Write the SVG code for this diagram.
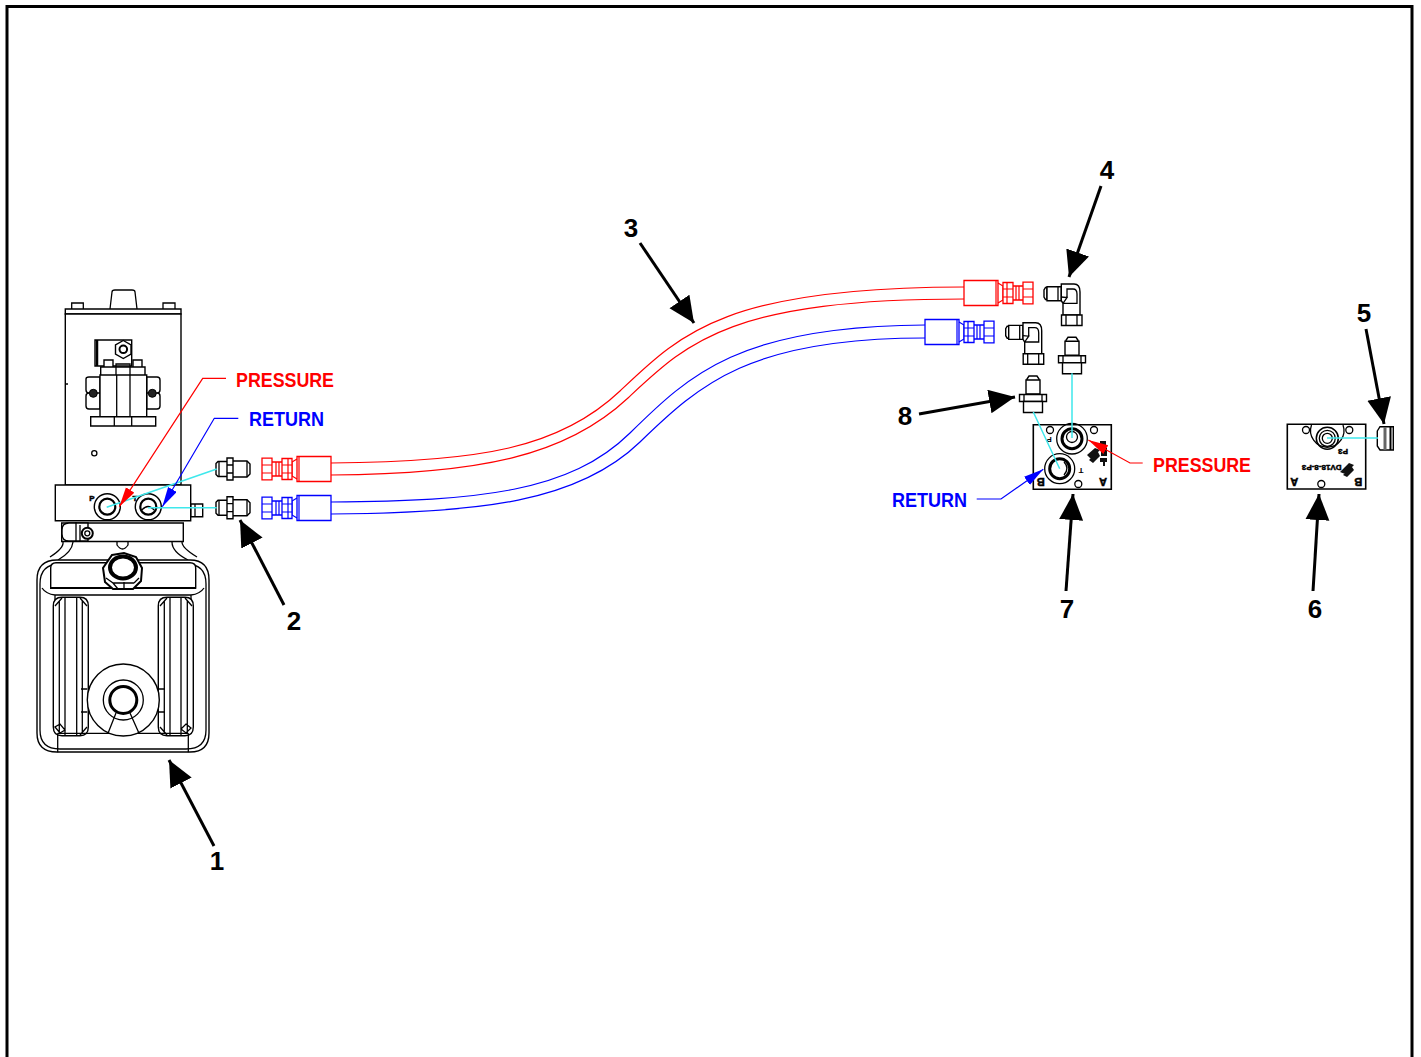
<svg xmlns="http://www.w3.org/2000/svg" xmlns:xlink="http://www.w3.org/1999/xlink" width="1421" height="1057" viewBox="0 0 1421 1057">
<style>
.k{fill:none;stroke:#000;stroke-width:1.3}
.w{fill:#fff;stroke:#000;stroke-width:1.4}
.h{fill:#fff;stroke:currentColor;stroke-width:1.3}
.t{fill:none;stroke:currentColor;stroke-width:1.2}
.c{fill:none;stroke:#3fe8ec;stroke-width:1.5}
.ca{fill:none;stroke:#000;stroke-width:3;marker-end:url(#big)}
.num{font:bold 26px "Liberation Sans",Arial,sans-serif;fill:#000;text-anchor:middle}
.lab{font:bold 21px "Liberation Sans",Arial,sans-serif}
.mini{font:bold 8px "Liberation Sans",Arial,sans-serif;fill:#000;text-anchor:middle}
.big{font-size:11px}
.blk{stroke:#000;stroke-width:.5}
</style>
<defs>
<marker id="big" markerUnits="userSpaceOnUse" markerWidth="28" markerHeight="26" refX="26" refY="12" orient="auto"><path d="M0 0L26 12L0 24z" fill="#000"/></marker>
<marker id="ar" markerUnits="userSpaceOnUse" markerWidth="22" markerHeight="12" refX="20" refY="5" orient="auto"><path d="M0 0L20 5L0 10z" fill="#f00"/></marker>
<marker id="ab" markerUnits="userSpaceOnUse" markerWidth="22" markerHeight="12" refX="20" refY="5" orient="auto"><path d="M0 0L20 5L0 10z" fill="#00f"/></marker>
<g id="hoseEnd">
<path class="h" d="M0-12.500H-34V12.500H0z"/><path class="t" d="M-32-12.500V12.500M-34-10L-39-7V7L-34 10"/>
<path class="h" d="M-39-10.500H-49V10.500H-39zM-49-7H-59V7H-49zM-59-10.800H-69V10.800H-59z"/>
<path class="t" d="M-39-4H-49M-39 4H-49M-59-4H-69M-59 4H-69M-52-7V7M-55-7V7M-43-10.500V10.500"/>
</g>
<g id="straight">
<path class="w" d="M0-5.500L2-7.500H11V7.500H2L0 5.500zM11-11H17V11H11zM17-8H31L34-5V5L31 8H17z"/><path class="k" d="M3-7.500V7.500M11-4H17M11 4H17M31-8V8"/>
</g>
<g id="elbow">
<path class="w" d="M3 3.500H1.500L0 6V13L1.500 15.500H3z"/><path class="w" d="M3 2.700H17.300V16.700H3z"/><path class="k" d="M14 2.700V16.700M17 10H19"/>
<path class="w" d="M17.300 0H30Q36 0 36 8V31H19V19.300L17.300 16.700z"/><path class="k" d="M17.300 13L23 13.500L19 19.300M23 13.500V5H29Q33 5 33 10V19.300H19"/>
<path class="w" d="M17.500 31H38V41.500H17.500z"/><path class="k" d="M22 31V41.500M33 31V41.500"/>
</g>
<g id="adapter">
<path class="w" d="M-4 0H4L6 3V12H-6V3z"/><path class="w" d="M-7 4H7V18H-7z"/><path class="w" d="M-13.500 18.500H13.500V25.500H-13.500z"/><path class="k" d="M-9 18.500V25.500M9 18.500V25.500"/><path class="w" d="M-9.500 25.500H9.500V36.500H-9.500z"/>
</g>
</defs>
<rect width="1421" height="1057" fill="#fff"/>
<path d="M7 6.500H1412V1057M7 5V1057" fill="none" stroke="#000" stroke-width="3"/>

<g id="n1-pump">
<path class="k" d="M110 309L112 292Q112 290 115 290H132Q135 290 135 292L137 309M71.700 309V303H83.300V309M163 309V303H175V309"/>
<path class="w" d="M65.300 309H181V314H65.300z"/><path class="w" d="M65.300 314H181V485H65.300z"/>
<path class="k" d="M66 384H68"/><circle cx="94.300" cy="453.300" r="2.600" class="k"/>
<path class="w" d="M95 340H131.700V366H95z"/><path d="M97 340V366" stroke="#000" stroke-width="2.500"/>
<path class="w" d="M123.300 340.500L131 345V354L123.300 358.500L115.500 354V345z"/><circle cx="123.300" cy="349.300" r="3.800" fill="none" stroke="#000" stroke-width="2"/>
<path class="w" d="M104 360H113V372H104zM133 360H142V372H133z"/><path class="w" d="M100.700 367H145V376H100.700z"/><path class="k" d="M116 364H130V376H116z"/>
<path class="w" d="M86 379Q86 377 89 377H100V393H89Q86 393 86 390ZM86 396Q86 393 89 393H100V409H89Q86 409 86 406ZM146.700 377H157Q160 377 160 380V390Q160 393 157 393H146.700ZM146.700 393H157Q160 393 160 396V406Q160 409 157 409H146.700Z"/>
<path class="w" d="M100 375H146.700V416.700H100z"/><path class="k" d="M116.700 375V416.700M130 375V416.700"/>
<circle cx="93.300" cy="393.300" r="4" fill="#222" stroke="#000"/><circle cx="152.300" cy="393.300" r="4" fill="#222" stroke="#000"/>
<path class="w" d="M90.700 416.700H155.700V426H90.700z"/><path class="k" d="M114.300 416.700V426M131.700 416.700V426"/>
<path class="w" d="M61.700 523H183.300V541.500H61.700z"/>
<path class="w" d="M62 530Q62 523 69 523H88V541H69Q62 541 62 534z"/><circle cx="87.300" cy="533.300" r="5.500" fill="#fff" stroke="#000" stroke-width="2"/><circle cx="87.300" cy="533.300" r="2.500" class="k"/><path class="k" d="M80 525V541M76 522V541"/>
<path class="k" d="M117 542V545Q122.500 553 128 545V542"/>
<path class="k" d="M73 542Q72 552 58 560M63 542Q64 548 50 557M172 542Q172 552 188 560M182 542Q182 548 197 557"/>
<path class="w" d="M37 580Q37 560 57 560H190Q209 560 209 580V733Q209 752 190 752H57Q37 752 37 733z"/>
<path class="k" d="M40 584Q40 564 60 564H186Q206 564 206 584V730Q206 749 186 749H60Q40 749 40 730z"/>
<path class="w" d="M50.700 568Q50.700 562.700 56 562.700H190Q195.700 562.700 195.700 568V588H50.700z"/>
<path class="k" d="M42 588Q46 594 55 595H191Q200 594 204 588M55 595V733M191 595V733"/>
<path d="M50 588H196" fill="none" stroke="#000" stroke-width="1.800"/>
<path class="w" d="M53.300 606Q53.300 597.300 62 597.300H80Q88.300 597.300 88.300 606V727Q88.300 735.700 80 735.700H62Q53.300 735.700 53.300 727z"/>
<path class="k" d="M59.300 601V733M65 597.300V735.700M76.700 597.300V735.700M82.300 601V733M55 606L62 598M87 606L80 598M55 727L60 733L65 730L60 724zM87 727L80 735"/>
<path class="w" d="M158.300 606Q158.300 597.300 167 597.300H185Q193.300 597.300 193.300 606V727Q193.300 735.700 185 735.700H167Q158.300 735.700 158.300 727z"/>
<path class="k" d="M164.300 601V733M170 597.300V735.700M181 597.300V735.700M187.300 601V733M160 606L167 598M192 606L185 598M186 724L191 728L186 733L181 729zM160 727L167 735"/>
<path class="k" d="M57.700 733.300H188.300M57.700 733.300V752.300M188.300 733.300V752.300"/>
<path class="k" d="M81 689H87.300M81 712H87.300M158.300 689H165M158.300 712H165"/>
<circle cx="123.300" cy="700" r="36" class="w"/><circle cx="123.300" cy="700" r="20" class="k"/>
<circle cx="123.300" cy="700" r="13.500" fill="#fff" stroke="#000" stroke-width="3"/>
<path class="k" d="M116 713L108 733.300M130 713L139 733.300"/>
<path d="M112 555L124 553L136 557L142 568L141 581L133 589H113L105 582L103 568z" fill="#fff" stroke="#000" stroke-width="2"/>
<ellipse cx="123" cy="567.500" rx="13" ry="11" fill="#fff" stroke="#000" stroke-width="4"/>
<path class="k" d="M106 578L113 583L118 589M113 583H134M124 582V589M134 583L139 578"/>
<path class="w" d="M190.700 504H202.700V516.700H190.700z"/><path class="k" d="M195 504V516.700"/>
<path class="w" d="M55.300 485H190.700V520.700H55.300z"/>
<circle cx="107.300" cy="506.700" r="13" class="w"/><circle cx="107.300" cy="506.700" r="8" fill="none" stroke="#000" stroke-width="2.200"/>
<circle cx="148.300" cy="506.700" r="13" class="w"/><circle cx="148.300" cy="506.700" r="8" fill="none" stroke="#000" stroke-width="2.200"/><path class="k" d="M142 510Q148 503 154 510"/>
<text class="mini blk" x="92" y="501">P</text><text class="mini blk" x="135" y="501">T</text>
</g>

<g id="n2-fittings">
<use xlink:href="#straight" href="#straight" x="216" y="469"/>
<use xlink:href="#straight" href="#straight" x="216" y="507.700"/>
</g>

<g id="n3-hoses">
<g color="#f00"><path class="t" d="M331 463C480 462 560 448 620 391C680 334 725 287 964 287"/><path class="t" d="M331 475C480 474 566 456 628 398C688 342 730 299 964 299"/>
<use xlink:href="#hoseEnd" href="#hoseEnd" transform="translate(331 469)"/><use xlink:href="#hoseEnd" href="#hoseEnd" transform="translate(964 293) scale(-1 1)"/></g>
<g color="#00f"><path class="t" d="M331 502C480 501 570 492 630 433C690 374 740 326 925 325"/><path class="t" d="M331 514C480 513 578 502 640 442C700 384 750 338 925 338"/>
<use xlink:href="#hoseEnd" href="#hoseEnd" transform="translate(331 508)"/><use xlink:href="#hoseEnd" href="#hoseEnd" transform="translate(925 332) scale(-1 1)"/></g>
</g>

<g id="n4-elbows">
<use xlink:href="#elbow" href="#elbow" x="1044" y="284"/>
<use xlink:href="#elbow" href="#elbow" x="1005.700" y="322.700"/>
<use xlink:href="#adapter" href="#adapter" x="1072" y="337.300"/>
</g>

<g id="n8-adapter"><use xlink:href="#adapter" href="#adapter" x="1033" y="376"/></g>

<g id="n7-manifold">
<path d="M1033.300 424.700H1111.300V489.300H1033.300z" fill="#fff" stroke="#000" stroke-width="1.600"/>
<circle cx="1050" cy="430" r="3.500" class="k"/><circle cx="1094" cy="430" r="3.500" class="k"/><circle cx="1078.300" cy="484" r="3.500" class="k"/>
<circle cx="1072" cy="438.700" r="15.300" class="k"/><circle cx="1072" cy="438.700" r="10" fill="none" stroke="#000" stroke-width="3"/><circle cx="1072" cy="437" r="5.500" class="k"/>
<circle cx="1059.700" cy="468.700" r="15" class="k"/><circle cx="1059.700" cy="468.700" r="10" fill="none" stroke="#000" stroke-width="3"/><path class="k" d="M1064 462Q1070 468 1064 475"/>
<text class="mini big blk" transform="rotate(180 1040.700 482)" x="1040.700" y="486">B</text>
<text class="mini big blk" transform="rotate(180 1103 482)" x="1103" y="486">A</text>
<text class="mini" transform="rotate(180 1081 470.700)" x="1081" y="473.700">T</text>
<text class="mini" transform="rotate(180 1049 440)" x="1049" y="443">P</text>
<path d="M1087 455L1095 448L1100 450L1091 459zM1089 460L1098 452L1100 456L1093 463z" fill="#111"/>
<path d="M1100 441H1106V447H1100zM1101 448H1107V456H1101zM1100 458H1107V462H1100zM1103 462H1105V466H1103z" fill="#111"/>
</g>

<g id="n6-manifold">
<path d="M1287.300 424.300H1365.700V489H1287.300z" fill="#fff" stroke="#000" stroke-width="1.600"/>
<circle cx="1306" cy="430" r="3.500" class="k"/><circle cx="1349.300" cy="430" r="3.500" class="k"/><circle cx="1321.300" cy="484" r="3.500" class="k"/>
<path class="k" d="M1311.500 425A16.700 16.700 0 1 0 1343 425"/><circle cx="1327.300" cy="438.300" r="11" fill="none" stroke="#000" stroke-width="1.500"/><circle cx="1327.300" cy="438.300" r="8" class="k"/><circle cx="1327.300" cy="438.300" r="5" class="k"/>
<text class="mini blk" transform="rotate(180 1343 452)" x="1343" y="455">P3</text>
<text class="mini blk" transform="rotate(180 1321.700 468)" x="1321.700" y="471">DV18-8-P3</text>
<path d="M1340 472L1349 463L1354 465L1345 474zM1343 475L1352 467L1354 470L1347 477z" fill="#111"/>
<text class="mini big blk" transform="rotate(180 1294.300 482)" x="1294.300" y="486">A</text>
<text class="mini big blk" transform="rotate(180 1358.300 482)" x="1358.300" y="486">B</text>
</g>

<g id="n5-plug">
<path class="w" d="M1377.300 431L1380 426.700H1393.300V450H1380L1377.300 446z"/><path d="M1385 427V450" stroke="#666" stroke-width="3"/><path d="M1390.500 426.700V450" stroke="#000" stroke-width="2"/>
</g>

<g id="connectors">
<path class="c" d="M106.700 507.300L216.700 469M148 507.700H216.700M1072 373.300V438M1033.300 412L1059.700 468.700M1327 438H1378"/>
<path fill="none" stroke="#f00" stroke-width="1.200" marker-end="url(#ar)" d="M226 378.300H202.700L119.300 506.700"/>
<path fill="none" stroke="#00f" stroke-width="1.200" marker-end="url(#ab)" d="M238.300 418.300H214.300L162.300 506.700"/>
<path fill="none" stroke="#f00" stroke-width="1.200" marker-end="url(#ar)" d="M1142.700 463H1130L1088.300 440"/>
<path fill="none" stroke="#00f" stroke-width="1.200" marker-end="url(#ab)" d="M976.700 499H1001L1043.300 469.300"/>
<path class="ca" d="M640 243L694 323"/><path class="ca" d="M1101 186L1069 277"/><path class="ca" d="M1366 329L1384 424"/><path class="ca" d="M919 414L1015 397"/>
<path class="ca" d="M1066 591L1073 494"/><path class="ca" d="M1313 591L1319 494"/><path class="ca" d="M284 605L240 520"/><path class="ca" d="M214 846L169 760"/>
</g>

<g id="labels">
<text class="lab" x="236" y="387" fill="#f00" textLength="98" lengthAdjust="spacingAndGlyphs">PRESSURE</text>
<text class="lab" x="249" y="426" fill="#00f" textLength="75" lengthAdjust="spacingAndGlyphs">RETURN</text>
<text class="lab" x="1153" y="472" fill="#f00" textLength="98" lengthAdjust="spacingAndGlyphs">PRESSURE</text>
<text class="lab" x="892" y="507" fill="#00f" textLength="75" lengthAdjust="spacingAndGlyphs">RETURN</text>
<text class="num" x="217" y="870">1</text><text class="num" x="294" y="630">2</text><text class="num" x="631" y="237">3</text><text class="num" x="1107" y="179">4</text>
<text class="num" x="1364" y="322">5</text><text class="num" x="1315" y="618">6</text><text class="num" x="1067" y="618">7</text><text class="num" x="905" y="425">8</text>
</g>
</svg>
